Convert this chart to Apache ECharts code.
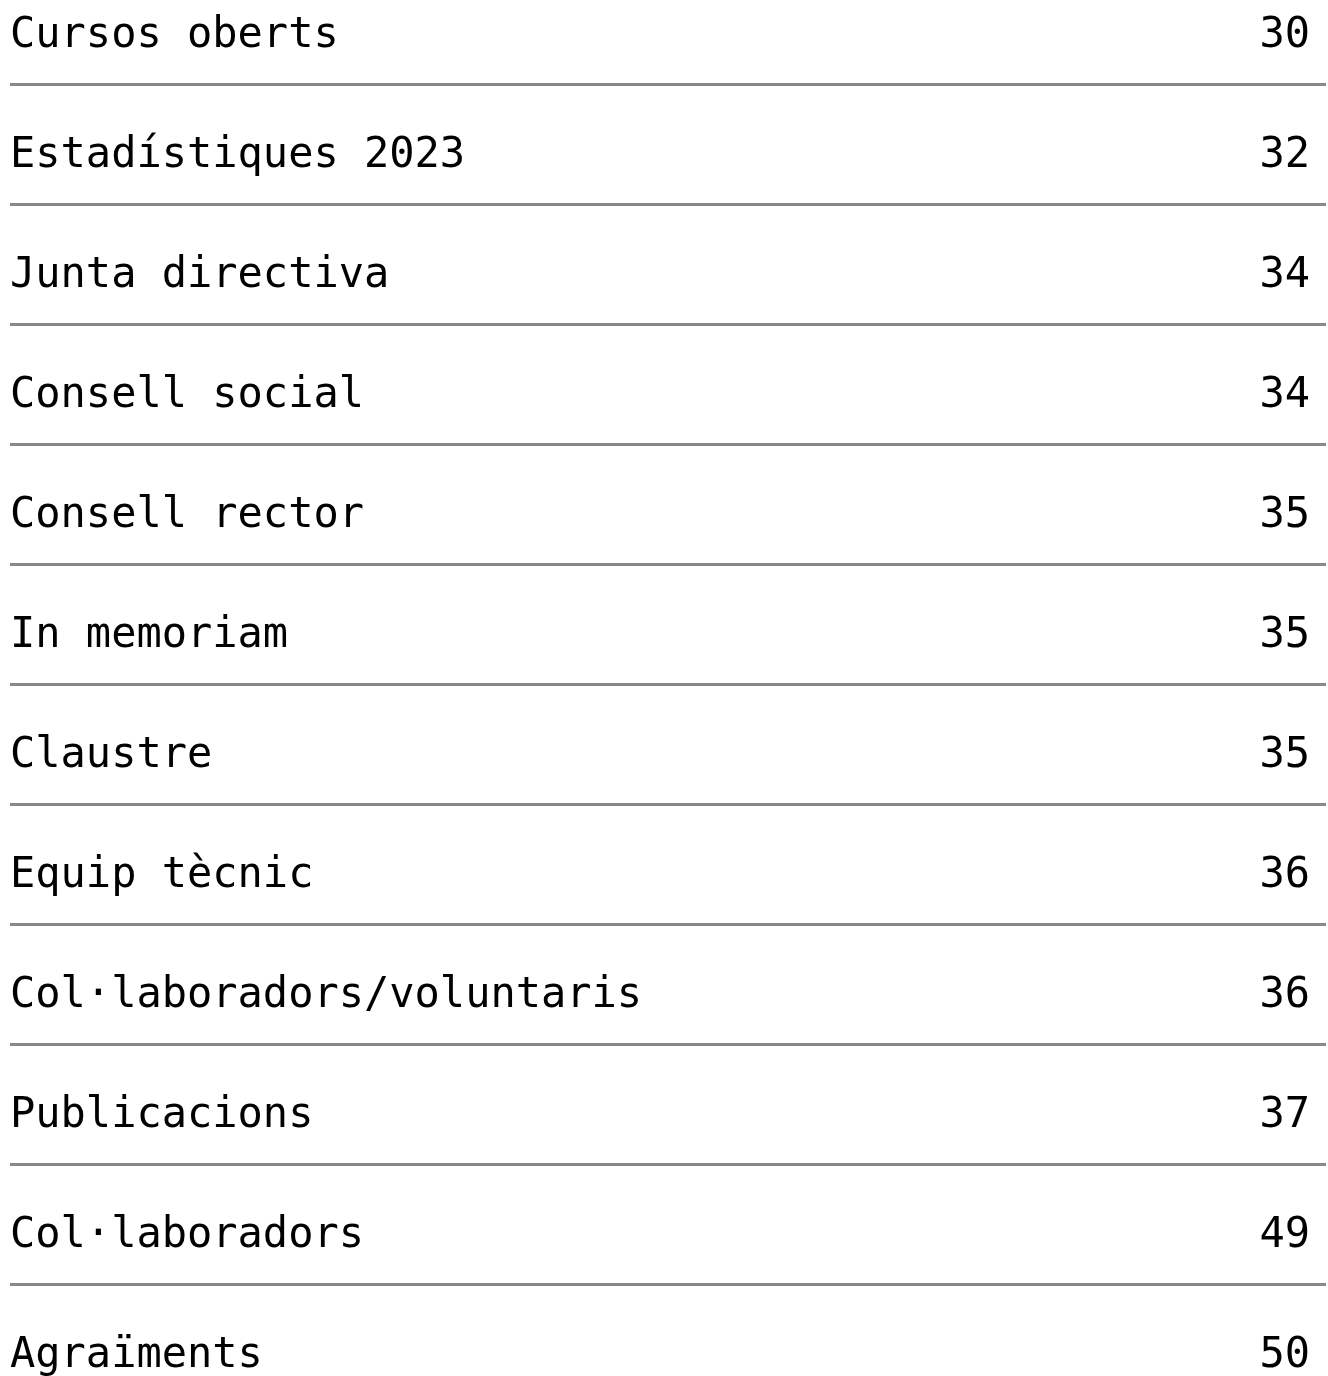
<!DOCTYPE html>
<html>
<head>
<meta charset="utf-8">
<script src="https://cdn.jsdelivr.net/npm/echarts@6/dist/echarts.min.js"></script>
<style>
  html, body { margin: 0; padding: 0; background: #fff; }
  #chart { width: 1328px; height: 1376px; }
</style>
</head>
<body>
<div id="chart"></div>
<script>
// table of contents entries
const sections = [
  "Cursos oberts",
  "Estadístiques 2023",
  "Junta directiva",
  "Consell social",
  "Consell rector",
  "In memoriam",
  "Claustre",
  "Equip tècnic",
  "Col·laboradors/voluntaris",
  "Publicacions",
  "Col·laboradors",
  "Agraïments"
];
const pages = [30, 32, 34, 34, 35, 35, 35, 36, 36, 37, 49, 50];

const chart = echarts.init(document.getElementById("chart"));

// labels sit a bit below the middle of each row
const rowText = {
  fontFamily: "DejaVu Sans Mono",
  fontSize: 42,
  color: "#000",
  padding: [24, 0, 0, 0],
};

const option = {
  animation: false,
  grid: {
    left: 10,
    right: 2,
    top: -36,
    height: 1440,
    containLabel: false,
    outerBoundsMode: "none",
  },
  xAxis: {
    type: "value",
    show: false,
    min: 0,
    max: 1,
  },
  yAxis: [
    {
      type: "category",
      data: sections,
      inverse: true,
      axisLine: { show: false },
      axisTick: { show: false },
      axisLabel: {
        inside: true,
        margin: 0,
        align: "left",
        verticalAlign: "middle",
        interval: 0,
        formatter: (v) => "{t|" + v + "}",
        rich: { t: rowText },
      },
      splitLine: {
        show: true,
        lineStyle: { color: "#888", width: 3 },
      },
    },
    {
      type: "category",
      data: sections,
      inverse: true,
      position: "right",
      axisLine: { show: false },
      axisTick: { show: false },
      axisLabel: {
        inside: true,
        margin: 16,
        align: "right",
        verticalAlign: "middle",
        interval: 0,
        formatter: (v, i) => "{t|" + pages[i] + "}",
        rich: { t: rowText },
      },
      splitLine: { show: false },
    },
  ],
  series: [
    {
      type: "scatter",
      yAxisIndex: 0,
      symbolSize: 0,
      silent: true,
      data: sections.map((s) => [0, s]),
    },
  ],
};

chart.setOption(option);
</script>
</body>
</html>
